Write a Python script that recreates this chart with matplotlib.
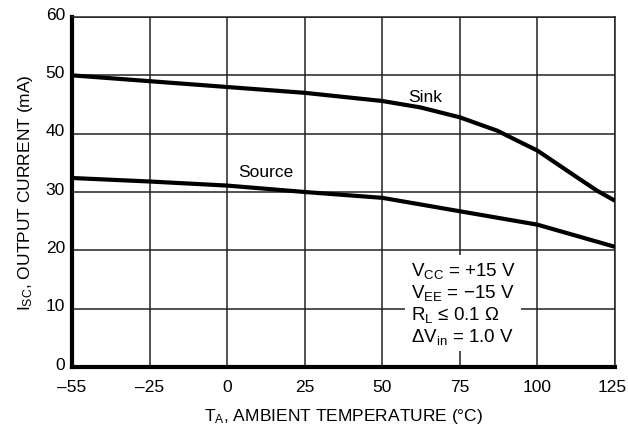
import numpy as np
import matplotlib
matplotlib.use("Agg")
import matplotlib.pyplot as plt
import matplotlib.transforms as mtransforms

fam = ['Liberation Sans', 'DejaVu Sans']
plt.rcParams['font.family'] = fam
plt.rcParams['mathtext.fontset'] = 'custom'
plt.rcParams['mathtext.rm'] = fam[0]
plt.rcParams['mathtext.it'] = fam[0]

# Data
x_ticks = [-55, -25, 0, 25, 50, 75, 100, 125]
x_labels = ['\u201355', '\u201325', '0', '25', '50', '75', '100', '125']
y_ticks = [0, 10, 20, 30, 40, 50, 60]
sink_t = [-55, -25, 0, 25, 50, 62.3, 75, 87.1, 93.5, 100, 106.4, 112.8, 119.3, 125]
sink_i = [50.0, 49.0, 48.0, 47.0, 45.6, 44.5, 42.8, 40.5, 38.8, 37.1, 34.8, 32.5, 30.2, 28.5]
source_t = [-55, -25, 0, 25, 50, 75, 100, 125]
source_i = [32.4, 31.8, 31.1, 30.0, 29.0, 26.7, 24.4, 20.6]

idx = np.arange(len(x_ticks), dtype=float)
fwd = lambda v: np.interp(v, x_ticks, idx)
inv = lambda v: np.interp(v, idx, x_ticks)

fig = plt.figure(figsize=(6.28, 4.31), dpi=100)
ax = fig.add_axes([72/628, 1-368/431, 543/628, 350/431])
ax.set_xscale('function', functions=(fwd, inv))
ax.set_xlim(-55, 125)
ax.set_ylim(0, 60)
ax.set_xticks(x_ticks)
ax.set_xticklabels(x_labels)
ax.set_yticks(y_ticks)
ax.grid(True, color='#222222', linewidth=1.1)
ax.tick_params(length=0, labelsize=12.5, colors='black')
ax.tick_params(axis='x', pad=9)
ax.tick_params(axis='y', pad=5)
shift = mtransforms.ScaledTranslation(0, 3/72, fig.dpi_scale_trans)
for lab in ax.get_yticklabels():
    lab.set_transform(lab.get_transform() + shift)
last = ax.get_xticklabels()[-1]
last.set_horizontalalignment('right')
last.set_transform(last.get_transform() + mtransforms.ScaledTranslation(12/100, 0, fig.dpi_scale_trans))
for s in ['left', 'bottom']:
    ax.spines[s].set_linewidth(3)
for s in ['top', 'right']:
    ax.spines[s].set_linewidth(1.1)
    ax.spines[s].set_color('#222222')

ax.plot(sink_t, sink_i, color='black', lw=3.0, solid_capstyle='butt', solid_joinstyle='round', zorder=3)
ax.plot(source_t, source_i, color='black', lw=3.0, solid_capstyle='butt', solid_joinstyle='round', zorder=3)

ax.text(58.3, 45.6, 'Sink', fontsize=12.5, ha='left', va='baseline')
ax.text(3.5, 32.7, 'Source', fontsize=12.5, ha='left', va='baseline')

ax.text(0.624, 0.305,
        '$\\mathregular{V_{CC}}$ = +15 V\n$\\mathregular{V_{EE}}$ = \u221215 V\n$\\mathregular{R_{L}}$ \u2264 0.1 \u03a9\n\u0394$\\mathregular{V_{in}}$ = 1.0 V',
        transform=ax.transAxes, fontsize=13.5, ha='left', va='top', linespacing=1.12,
        bbox=dict(facecolor='white', edgecolor='none', pad=4), zorder=4)

ax.set_xlabel('$\\mathregular{T_A}$, AMBIENT TEMPERATURE (\u00b0C)', fontsize=12.5, labelpad=8)
ax.set_ylabel('$\\mathregular{I_{SC}}$, OUTPUT CURRENT (mA)', fontsize=12.5, labelpad=8)

fig.savefig('out.png', dpi=100)
